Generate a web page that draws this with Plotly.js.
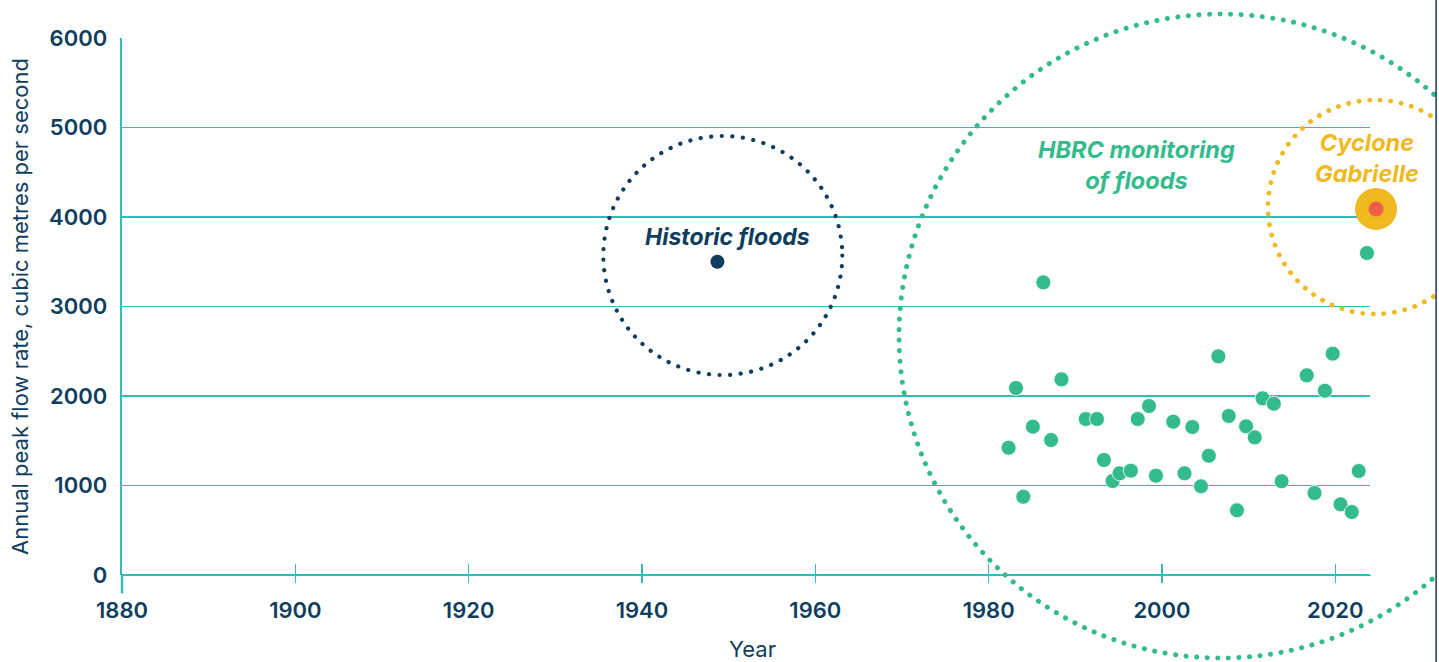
<!DOCTYPE html>
<html>
<head>
<meta charset="utf-8">
<script src="https://cdn.plot.ly/plotly-3.0.1.min.js"></script>
<style>
  html, body { margin: 0; padding: 0; background: #ffffff; }
  #chart { width: 1439px; height: 662px; }
  .shapelayer path { stroke-linecap: round; }
</style>
</head>
<body>
<div id="chart"></div>
<script>
// ---- Data ----
const hbrcYears = [1982.3, 1983.15, 1984.0, 1985.1, 1986.3, 1987.2, 1988.4, 1991.2, 1992.5, 1993.3,
  1994.3, 1995.1, 1996.4, 1997.2, 1998.5, 1999.3, 2001.3, 2002.6, 2003.5, 2004.5,
  2005.4, 2006.5, 2007.7, 2008.65, 2009.7, 2010.7, 2011.6, 2012.9, 2013.8, 2016.7,
  2017.6, 2018.8, 2019.7, 2020.6, 2021.9, 2022.7, 2023.65];
const hbrcFlows = [1422, 2089, 875, 1657, 3270, 1508, 2186, 1743, 1743, 1285,
  1050, 1136, 1166, 1743, 1888, 1110, 1713, 1136, 1654, 991,
  1333, 2443, 1777, 723, 1661, 1538, 1974, 1914, 1047, 2231,
  916, 2059, 2473, 790, 704, 1162, 3598];
const historicYears = [1948.7];
const historicFlows = [3500];
const gabrielleYears = [2024.7];
const gabrielleFlows = [4090];
const xTickVals = [1880, 1900, 1920, 1940, 1960, 1980, 2000, 2020];
const xTickText = ["1880", "1900", "1920", "1940", "1960", "1980", "2000", "2020"];
const yTickVals = [0, 1000, 2000, 3000, 4000, 5000, 6000];
const yTickText = ["0", "1000", "2000", "3000", "4000", "5000", "6000"];

// ---- Styles ----
const NAVY = "#0e3d5e";
const TEAL = "#2dbdbd";
const GREEN = "#34bb8c";
const YELLOW = "#f0b91f";
const RED = "#ef5f48";
const FONT = "Inter, 'Open Sans', sans-serif";
const XRANGE = [1880, 2025.5];
const GRID_END = 2024.0;

const traces = [
  {
    x: hbrcYears, y: hbrcFlows, type: "scatter", mode: "markers",
    marker: { color: GREEN, size: 15, line: { color: "#ffffff", width: 0.8 } },
    cliponaxis: false, name: "HBRC monitoring of floods", showlegend: false
  },
  {
    x: historicYears, y: historicFlows, type: "scatter", mode: "markers",
    marker: { color: NAVY, size: 14 },
    cliponaxis: false, name: "Historic floods", showlegend: false
  },
  {
    x: gabrielleYears, y: gabrielleFlows, type: "scatter", mode: "markers",
    marker: { color: YELLOW, size: 42 },
    cliponaxis: false, name: "Cyclone Gabrielle", showlegend: false
  },
  {
    x: gabrielleYears, y: gabrielleFlows, type: "scatter", mode: "markers",
    marker: { color: RED, size: 15 },
    cliponaxis: false, name: "Cyclone Gabrielle", showlegend: false
  },
  // invisible trace to carry the inner tick marks on the overlay axis
  {
    x: [1880], y: [0], xaxis: "x2", type: "scatter", mode: "markers",
    marker: { opacity: 0 }, showlegend: false, hoverinfo: "skip"
  }
];

function dotted(color, width) {
  return { color: color, width: width, dash: "0.1px,10.5px" };
}

const layout = {
  width: 1439, height: 662,
  margin: { l: 122, r: 56, t: 38, b: 87 },
  paper_bgcolor: "#ffffff", plot_bgcolor: "#ffffff",
  showlegend: false,
  font: { family: FONT, color: NAVY },
  xaxis: {
    range: XRANGE, tickmode: "array", tickvals: xTickVals, ticktext: xTickText,
    showgrid: false, zeroline: false,
    showline: false,
    ticks: "outside", ticklen: 7, tickwidth: 1.3, tickcolor: TEAL,
    tickfont: { family: FONT, size: 22, color: NAVY, weight: 600 },
    ticklabelstandoff: 9,
    title: { text: "Year", font: { family: FONT, size: 22, color: NAVY }, standoff: 20 },
    fixedrange: true
  },
  xaxis2: {
    overlaying: "x", matches: "x", range: XRANGE, side: "bottom",
    tickmode: "array", tickvals: xTickVals, showticklabels: false,
    showgrid: false, zeroline: false, showline: false,
    ticks: "inside", ticklen: 11, tickwidth: 1.3, tickcolor: TEAL
  },
  yaxis: {
    range: [0, 6000], tickmode: "array", tickvals: yTickVals, ticktext: yTickText,
    showgrid: true, gridcolor: TEAL, gridwidth: 1.5,
    zeroline: true, zerolinecolor: TEAL, zerolinewidth: 1.7,
    showline: true, linecolor: TEAL, linewidth: 2.4,
    ticks: "",
    tickfont: { family: FONT, size: 22, color: NAVY, weight: 600 },
    ticklabelstandoff: 8,
    title: { text: "Annual peak flow rate, cubic metres per second",
             font: { family: FONT, size: 22, color: NAVY }, standoff: 14 },
    fixedrange: true
  },
  shapes: [
    // mask gridline extensions beyond the frame (drawn under the markers)
    { type: "rect", xref: "x", yref: "y", x0: GRID_END, x1: 2030, y0: -1000, y1: 7000,
      fillcolor: "#ffffff", line: { width: 0 }, layer: "between" },
    // mask the zero line extension
    { type: "rect", xref: "paper", yref: "paper", x0: 0.9903, x1: 1.015, y0: -0.007, y1: 0.007,
      fillcolor: "#ffffff", line: { width: 0 }, layer: "above" },
    // y axis line extending below the x axis
    { type: "line", xref: "paper", yref: "paper", x0: 0, x1: 0, y0: -0.032, y1: 0,
      line: { color: TEAL, width: 2.4 } },
    // Historic floods circle
    { type: "circle", xref: "paper", yref: "paper",
      x0: 0.3817, x1: 0.5712, y0: 0.3724, y1: 0.8175,
      line: dotted(NAVY, 4.2), layer: "above" },
    // HBRC monitoring circle
    { type: "circle", xref: "paper", yref: "paper",
      x0: 0.6162, x1: 1.1269, y0: -0.1546, y1: 1.0447,
      line: dotted(GREEN, 5), layer: "above" },
    // Cyclone Gabrielle circle
    { type: "circle", xref: "paper", yref: "paper",
      x0: 0.9088, x1: 1.0785, y0: 0.486, y1: 0.8845,
      line: dotted(YELLOW, 4.8), layer: "above" },
    // white strip beyond the frame edge
    { type: "rect", xref: "paper", yref: "paper", x0: 1.0430, x1: 1.07, y0: -0.2, y1: 1.1,
      fillcolor: "#ffffff", line: { width: 0 }, layer: "above" },
    // right frame edge
    { type: "line", xref: "paper", yref: "paper", x0: 1.0421, x1: 1.0421, y0: -0.165, y1: 1.075,
      line: { color: NAVY, width: 1.5 }, layer: "above" }
  ],
  annotations: [
    { x: 1949.9, y: 3780, xref: "x", yref: "y", text: "Historic floods", showarrow: false,
      font: { family: FONT, size: 23, color: NAVY, weight: 700, style: "italic" } },
    { x: 1997.0, y: 4581, xref: "x", yref: "y", text: "HBRC monitoring<br>of floods", showarrow: false,
      font: { family: FONT, size: 23.5, color: GREEN, weight: 700, style: "italic" } },
    { x: 2023.65, y: 4654, xref: "x", yref: "y", text: "Cyclone<br>Gabrielle", showarrow: false,
      font: { family: FONT, size: 23.5, color: YELLOW, weight: 700, style: "italic" } }
  ]
};

Plotly.newPlot("chart", traces, layout, { staticPlot: true, displayModeBar: false });
</script>
</body>
</html>
